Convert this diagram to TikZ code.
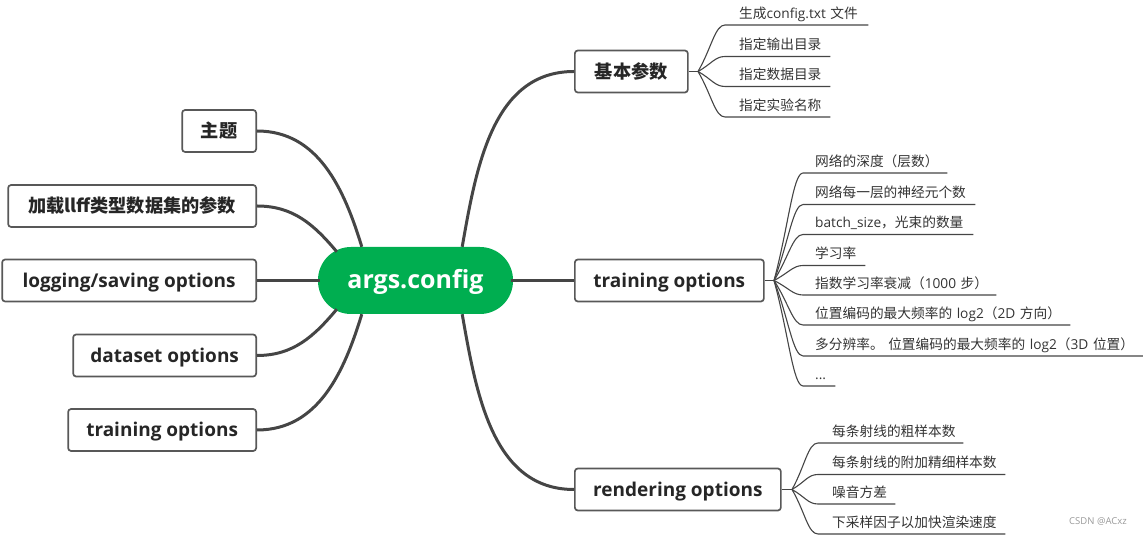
\documentclass[tikz,border=0pt]{standalone}
\usepackage{fontspec}
\setmainfont{Open Sans}
\newfontfamily\cjk{Noto Sans CJK SC}
\newcommand{\zh}[1]{{\cjk #1}}
\usetikzlibrary{calc}
\definecolor{wirecol}{HTML}{454545}
\definecolor{rootgreen}{HTML}{00AE50}
\tikzset{rootbox/.style={fill=rootgreen,text=white,rounded corners=33pt,minimum width=195pt,minimum height=67pt,text height=20pt,text depth=3pt,font=\bfseries\fontsize{25}{30}\selectfont},
  topicbox/.style={draw=wirecol!90,fill=white,line width=1.7pt,rounded corners=3pt,minimum height=42pt,inner xsep=0pt,text height=17pt,text depth=3pt,text=black!85,font=\bfseries\fontsize{19}{22}\selectfont},
  zhbox/.style={topicbox,font=\bfseries\fontsize{18.2}{22}\selectfont},
  leaf/.style={anchor=south west,inner xsep=0pt,inner ysep=4.5pt,text height=11pt,text depth=2pt,align=left,text=black!80,font=\fontsize{13.7}{15}\selectfont},
  bigwire/.style={draw=wirecol,line width=3pt},
  twig/.style={draw=wirecol,line width=1.1pt},
  wire/.style={twig,to path={.. controls ($(\tikztostart)!.5!(\tikztotarget)$) and ($(\tikztotarget)+(-10,0)$) .. (\tikztotarget)}}}
\begin{document}
\begin{tikzpicture}[x=1pt,y=1pt]
  \useasboundingbox (0,0) rectangle (1143,535);
  \node[rootbox] (root) at (415.5,254.5) {args.config};
  % left side
  \node[zhbox,anchor=east,minimum width=74pt] (topic) at (257,404) {\zh{主题}};
  \node[zhbox,anchor=east,minimum width=248pt] (llff) at (257,329) {\zh{加载llff类型数据集的参数}};
  \node[topicbox,anchor=east,minimum width=254pt] (logging) at (257,254.5) {logging/saving options};
  \node[topicbox,anchor=east,minimum width=183pt] (dataset) at (257,179.5) {dataset options};
  \node[topicbox,anchor=east,minimum width=188pt] (trainleft) at (257,105) {training options};
  % right side
  \node[zhbox,anchor=west,minimum width=113pt] (basic) at (574,463.5) {\zh{基本参数}};
  \node[topicbox,anchor=west,minimum width=189pt] (train) at (574,254.5) {training options};
  \node[topicbox,anchor=west,minimum width=206pt] (render) at (574,45.5) {rendering options};
  \draw[bigwire] (topic.east) to[out=0,in=107] ([xshift=44pt]root.north west);
  \draw[bigwire] (llff.east) to[out=0,in=130] ([xshift=19pt,yshift=-5pt]root.north west);
  \draw[bigwire] (logging.east) -- ([xshift=2pt]root.west);
  \draw[bigwire] (dataset.east) to[out=0,in=-130] ([xshift=19pt,yshift=5pt]root.south west);
  \draw[bigwire] (trainleft.east) to[out=0,in=-107] ([xshift=44pt]root.south west);
  \draw[bigwire] (basic.west) to[out=180,in=80] ([xshift=-51pt]root.north east);
  \draw[bigwire] (train.west) -- ([xshift=-2pt]root.east);
  \draw[bigwire] (render.west) to[out=180,in=-80] ([xshift=-51pt]root.south east);
  % leaves
  \coordinate (bbasic) at (698,463.5);
  \coordinate (btrain) at (774,254.5);
  \coordinate (brender) at (792,45.5);
  \node[leaf,text width=129pt] (b1) at (739,510) {\zh{生成}config.txt \zh{文件}};
  \node[leaf,text width=91pt] (b2) at (739,478.5) {\zh{指定输出目录}};
  \node[leaf,text width=91pt] (b3) at (739,448.5) {\zh{指定数据目录}};
  \node[leaf,text width=91pt] (b4) at (739,418) {\zh{指定实验名称}};
  \node[leaf,text width=132pt] (t1) at (815,362) {\zh{网络的深度（层数）}};
  \node[leaf,text width=160pt] (t2) at (815,330.5) {\zh{网络每一层的神经元个数}};
  \node[leaf,text width=158pt] (t3) at (815,300.5) {batch\_size\zh{，光束的数量}};
  \node[leaf,text width=50pt] (t4) at (815,269.5) {\zh{学习率}};
  \node[leaf,text width=181pt] (t5) at (815,240) {\zh{指数学习率衰减（}1000 \zh{步）}};
  \node[leaf,text width=255pt] (t6) at (815,210) {\zh{位置编码的最大频率的} log2\zh{（}2D \zh{方向）}};
  \node[leaf,text width=328pt] (t7) at (815,179) {\zh{多分辨率。 位置编码的最大频率的} log2\zh{（}3D \zh{位置）}};
  \node[leaf,text width=20pt] (t8) at (815,149) {...};
  \node[leaf,text width=131pt] (r1) at (832,92) {\zh{每条射线的粗样本数}};
  \node[leaf,text width=173pt] (r2) at (832,60.5) {\zh{每条射线的附加精细样本数}};
  \node[leaf,text width=63pt] (r3) at (832,31) {\zh{噪音方差}};
  \node[leaf,text width=173pt] (r4) at (832,1) {\zh{下采样因子以加快渲染速度}};
  \draw[twig] (basic.east) -- (bbasic);
  \draw[twig] (train.east) -- (btrain);
  \draw[twig] (render.east) -- (brender);
  \foreach \n in {b1,b2,b3,b4}
    \draw[wire] (bbasic) to ([xshift=-14pt]\n.south west) -- (\n.south east);
  \foreach \n in {t1,t2,t3,t4,t5,t6,t7,t8}
    \draw[wire] (btrain) to ([xshift=-12pt]\n.south west) -- (\n.south east);
  \foreach \n in {r1,r2,r3,r4}
    \draw[wire] (brender) to ([xshift=-14pt]\n.south west) -- (\n.south east);
  \node[text=black!40,font=\fontsize{9.5}{11}\selectfont] (mark) at (1098,14) {CSDN @ACxz};
\end{tikzpicture}
\end{document}
